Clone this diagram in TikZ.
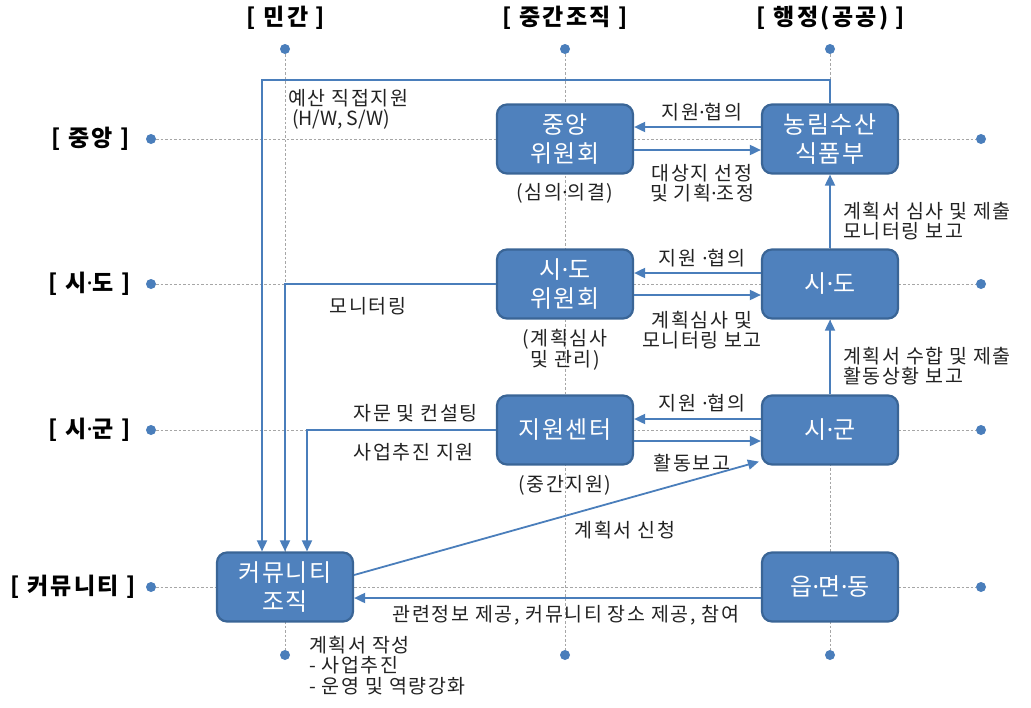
\documentclass[tikz,border=0pt]{standalone}
\usepackage{fontspec}
\setmainfont{Noto Sans CJK KR}
\newfontfamily\lblfont[LetterSpace=8]{Noto Sans CJK KR}
\newfontfamily\boxfont[LetterSpace=6]{Noto Sans CJK KR}
\newfontfamily\headfont[LetterSpace=10]{Noto Sans CJK KR}
\newfontfamily\dotfont{Noto Sans}
\newcommand\mdot{{\dotfont ·}}
\usetikzlibrary{arrows.meta}
\definecolor{boxfill}{HTML}{4F81BD}
\definecolor{boxline}{HTML}{3A6596}
\definecolor{conncol}{HTML}{4A7EBB}
\definecolor{gridcol}{HTML}{A6A6A6}
\definecolor{txt}{HTML}{222222}
\tikzset{
  box/.style={draw=boxline, line width=2.2pt, fill=boxfill, rounded corners=10pt,
    minimum width=136pt, minimum height=69pt, text=white, align=center,
    font=\boxfont\fontsize{24}{29}\selectfont, inner sep=0pt},
  dot/.style={circle, fill=conncol, draw=none, minimum size=10pt, inner sep=0pt},
  grid/.style={draw=gridcol, line width=0.8pt, dash pattern=on 2.5pt off 2pt},
  conn/.style={draw=conncol, line width=1.8pt, -{Triangle[length=11pt,width=10pt]}},
  lbl/.style={text=txt, font=\lblfont\fontsize{19.5}{20.5}\selectfont, align=center, inner sep=0pt},
  head/.style={text=black, font=\headfont\fontsize{23}{26}\selectfont\bfseries, inner sep=0pt}
}
\begin{document}
\begin{tikzpicture}[x=1pt,y=-1pt]
\useasboundingbox (0,0) rectangle (1031,707);
% dots
\node[dot] (tA) at (285,49) {};
\node[dot] (tB) at (565,49) {};
\node[dot] (tC) at (830,49) {};
\node[dot] (bA) at (285,655) {};
\node[dot] (bB) at (565,655) {};
\node[dot] (bC) at (830,655) {};
\node[dot] (l1) at (151,139) {};
\node[dot] (l2) at (151,284) {};
\node[dot] (l3) at (151,430) {};
\node[dot] (l4) at (151,587) {};
\node[dot] (r1) at (981,139) {};
\node[dot] (r2) at (981,284) {};
\node[dot] (r3) at (981,430) {};
\node[dot] (r4) at (981,587) {};
% grid
\draw[grid] (tA) -- (bA);
\draw[grid] (tB) -- (bB);
\draw[grid] (tC) -- (bC);
\draw[grid] (l1) -- (r1);
\draw[grid] (l2) -- (r2);
\draw[grid] (l3) -- (r3);
\draw[grid] (l4) -- (r4);
% headers
\node[head] (hA) at (286,18) {[ 민간 ]};
\node[head] (hB) at (565,18) {[ 중간조직 ]};
\node[head] (hC) at (831,18) {[ 행정(공공) ]};
\node[head, anchor=east] (h1) at (130,139) {[ 중앙 ]};
\node[head, anchor=east] (h2) at (131,284) {[ 시\mdot 도 ]};
\node[head, anchor=east] (h3) at (131,430) {[ 시\mdot 군 ]};
\node[head, anchor=east] (h4) at (136,587) {[ 커뮤니티 ]};
% boxes
\node[box] (jung) at (565,139) {중앙\\위원회};
\node[box] (nong) at (830,139) {농림수산\\식품부};
\node[box] (sdc) at (565,284) {시\mdot 도\\위원회};
\node[box] (sido) at (830,284) {시\mdot 도};
\node[box] (center) at (565,430) {지원센터};
\node[box] (sigun) at (830,430) {시\mdot 군};
\node[box] (comm) at (285,587) {커뮤니티\\조직};
\node[box] (eup) at (830,587) {읍\mdot 면\mdot 동};
% horizontal pairs
\draw[conn] ([yshift=12pt]nong.west) -- ([yshift=12pt]jung.east);
\draw[conn] ([yshift=-11pt]jung.east) -- ([yshift=-11pt]nong.west);
\draw[conn] ([yshift=11pt]sido.west) -- ([yshift=11pt]sdc.east);
\draw[conn] ([yshift=-11pt]sdc.east) -- ([yshift=-11pt]sido.west);
\draw[conn] ([yshift=11pt]sigun.west) -- ([yshift=11pt]center.east);
\draw[conn] ([yshift=-11pt]center.east) -- ([yshift=-11pt]sigun.west);
% vertical
\draw[conn] (sigun.north) -- (sido.south);
\draw[conn] (sido.north) -- (nong.south);
% long lines to community
\coordinate (topbend) at (262,80);
\draw[conn] (nong.north) |- (topbend) -- ([xshift=-23pt]comm.north);
\draw[conn] (sdc.west) -| (comm.north);
\draw[conn] (center.west) -| ([xshift=22pt]comm.north);
% diagonal
\draw[conn] ([yshift=12pt]comm.east) -- ([xshift=-2pt,yshift=4pt]sigun.south west);
% bottom
\draw[conn] ([yshift=-11pt]eup.west) -- ([yshift=-11pt]comm.east);
% labels
\node[lbl, anchor=north west, align=left] (lb1) at (288,89) {예산 직접지원\\\hspace{4pt}{\rmfamily (H/W, S/W)}};
\node[lbl] (lb2) at (702,112) {지원\mdot 협의};
\node[lbl] (lb3) at (702,183) {대상지 선정\\및 기획\mdot 조정};
\node[lbl] (lb4) at (565,193) {(심의\mdot 의결)};
\node[lbl, anchor=west, align=left] (lb5) at (843,221) {계획서 심사 및 제출\\모니터링 보고};
\node[lbl] (lb6) at (702,258) {지원 \mdot 협의};
\node[lbl] (lb7) at (702,330) {계획심사 및\\모니터링 보고};
\node[lbl] (lb8) at (565,350) {(계획심사\\및 관리)};
\node[lbl] (lb9) at (368,306) {모니터링};
\node[lbl, anchor=west, align=left] (lb10) at (843,366) {계획서 수합 및 제출\\활동상황 보고};
\node[lbl] (lb11) at (702,403) {지원 \mdot 협의};
\node[lbl, anchor=east] (lb12) at (478,413) {자문 및 컨설팅};
\node[lbl, anchor=east] (lb13) at (474,452) {사업추진 지원};
\node[lbl] (lb14) at (692,463) {활동보고};
\node[lbl] (lb15) at (565,485) {(중간지원)};
\node[lbl] (lb16) at (625,530) {계획서 신청};
\node[lbl] (lb17) at (566,615) {관련정보 제공, 커뮤니티 장소 제공, 참여};
\node[lbl, anchor=north west, align=left] (lb18) at (309,636) {계획서 작성\\- 사업추진\\- 운영 및 역량강화};
\end{tikzpicture}
\end{document}
